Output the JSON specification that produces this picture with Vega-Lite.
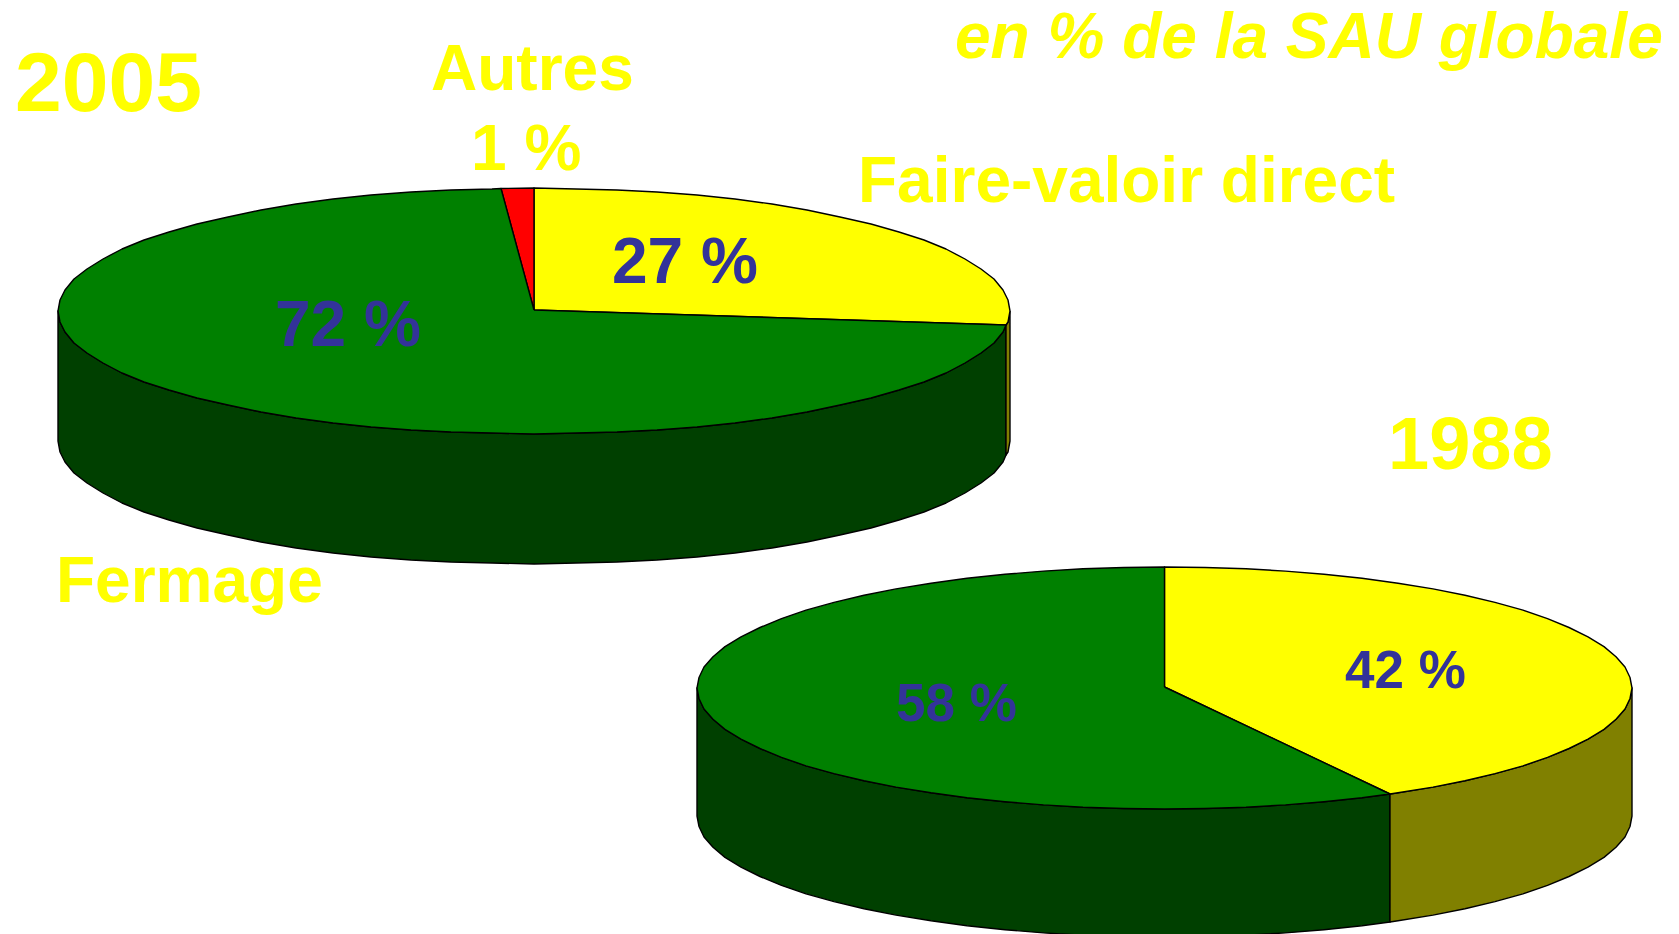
{"$schema":"https://vega.github.io/schema/vega-lite/v6.json","width":1679,"height":934,"padding":0,"autosize":{"type":"none"},"background":"white","config":{"view":{"stroke":null}},
"datasets":{"shapes":[
{"p":"2005 Fermage side","x":1006,"y":325},{"p":"2005 Fermage side","x":1003,"y":332},{"p":"2005 Fermage side","x":994,"y":343},{"p":"2005 Fermage side","x":981,"y":353},{"p":"2005 Fermage side","x":965,"y":363},{"p":"2005 Fermage side","x":946,"y":373},{"p":"2005 Fermage side","x":924,"y":382},{"p":"2005 Fermage side","x":899,"y":390},{"p":"2005 Fermage side","x":871,"y":398},{"p":"2005 Fermage side","x":840,"y":405},{"p":"2005 Fermage side","x":807,"y":412},{"p":"2005 Fermage side","x":772,"y":418},{"p":"2005 Fermage side","x":735,"y":423},{"p":"2005 Fermage side","x":697,"y":427},{"p":"2005 Fermage side","x":657,"y":430},{"p":"2005 Fermage side","x":617,"y":432},{"p":"2005 Fermage side","x":576,"y":433},{"p":"2005 Fermage side","x":534,"y":434},{"p":"2005 Fermage side","x":492,"y":433},{"p":"2005 Fermage side","x":451,"y":432},{"p":"2005 Fermage side","x":411,"y":430},{"p":"2005 Fermage side","x":371,"y":427},{"p":"2005 Fermage side","x":333,"y":423},{"p":"2005 Fermage side","x":296,"y":418},{"p":"2005 Fermage side","x":261,"y":412},{"p":"2005 Fermage side","x":228,"y":405},{"p":"2005 Fermage side","x":197,"y":398},{"p":"2005 Fermage side","x":169,"y":390},{"p":"2005 Fermage side","x":144,"y":382},{"p":"2005 Fermage side","x":122,"y":373},{"p":"2005 Fermage side","x":103,"y":363},{"p":"2005 Fermage side","x":87,"y":353},{"p":"2005 Fermage side","x":74,"y":343},{"p":"2005 Fermage side","x":65,"y":332},{"p":"2005 Fermage side","x":60,"y":322},{"p":"2005 Fermage side","x":58,"y":311},
{"p":"2005 Fermage side","x":58,"y":441},{"p":"2005 Fermage side","x":60,"y":452},{"p":"2005 Fermage side","x":65,"y":462},{"p":"2005 Fermage side","x":74,"y":473},{"p":"2005 Fermage side","x":87,"y":483},{"p":"2005 Fermage side","x":103,"y":493},{"p":"2005 Fermage side","x":122,"y":503},{"p":"2005 Fermage side","x":144,"y":512},{"p":"2005 Fermage side","x":169,"y":520},{"p":"2005 Fermage side","x":197,"y":528},{"p":"2005 Fermage side","x":228,"y":535},{"p":"2005 Fermage side","x":261,"y":542},{"p":"2005 Fermage side","x":296,"y":548},{"p":"2005 Fermage side","x":333,"y":553},{"p":"2005 Fermage side","x":371,"y":557},{"p":"2005 Fermage side","x":411,"y":560},{"p":"2005 Fermage side","x":451,"y":562},{"p":"2005 Fermage side","x":492,"y":563},{"p":"2005 Fermage side","x":534,"y":564},{"p":"2005 Fermage side","x":576,"y":563},{"p":"2005 Fermage side","x":617,"y":562},{"p":"2005 Fermage side","x":657,"y":560},{"p":"2005 Fermage side","x":697,"y":557},{"p":"2005 Fermage side","x":735,"y":553},{"p":"2005 Fermage side","x":772,"y":548},{"p":"2005 Fermage side","x":807,"y":542},{"p":"2005 Fermage side","x":840,"y":535},{"p":"2005 Fermage side","x":871,"y":528},{"p":"2005 Fermage side","x":899,"y":520},{"p":"2005 Fermage side","x":924,"y":512},{"p":"2005 Fermage side","x":946,"y":503},{"p":"2005 Fermage side","x":965,"y":493},{"p":"2005 Fermage side","x":981,"y":483},{"p":"2005 Fermage side","x":994,"y":473},{"p":"2005 Fermage side","x":1003,"y":462},{"p":"2005 Fermage side","x":1006,"y":455},{"p":"2005 Fermage side","x":1006,"y":325},
{"p":"2005 Direct side","x":1010,"y":311},{"p":"2005 Direct side","x":1008,"y":322},{"p":"2005 Direct side","x":1006,"y":325},{"p":"2005 Direct side","x":1006,"y":455},{"p":"2005 Direct side","x":1008,"y":452},{"p":"2005 Direct side","x":1010,"y":441},{"p":"2005 Direct side","x":1010,"y":311},
{"p":"2005 Direct top","x":534,"y":310},{"p":"2005 Direct top","x":534,"y":188},{"p":"2005 Direct top","x":576,"y":189},{"p":"2005 Direct top","x":617,"y":190},{"p":"2005 Direct top","x":657,"y":192},{"p":"2005 Direct top","x":697,"y":195},{"p":"2005 Direct top","x":735,"y":199},{"p":"2005 Direct top","x":772,"y":204},{"p":"2005 Direct top","x":807,"y":210},{"p":"2005 Direct top","x":840,"y":217},{"p":"2005 Direct top","x":871,"y":224},{"p":"2005 Direct top","x":899,"y":232},{"p":"2005 Direct top","x":924,"y":240},{"p":"2005 Direct top","x":946,"y":249},{"p":"2005 Direct top","x":965,"y":259},{"p":"2005 Direct top","x":981,"y":269},{"p":"2005 Direct top","x":994,"y":279},{"p":"2005 Direct top","x":1003,"y":290},{"p":"2005 Direct top","x":1008,"y":300},{"p":"2005 Direct top","x":1010,"y":311},{"p":"2005 Direct top","x":1008,"y":322},{"p":"2005 Direct top","x":1006,"y":325},{"p":"2005 Direct top","x":534,"y":310},
{"p":"2005 Autres top","x":534,"y":310},{"p":"2005 Autres top","x":534,"y":188},{"p":"2005 Autres top","x":501,"y":188.5},{"p":"2005 Autres top","x":534,"y":310},
{"p":"2005 Fermage top","x":534,"y":310},{"p":"2005 Fermage top","x":1006,"y":325},{"p":"2005 Fermage top","x":1003,"y":332},{"p":"2005 Fermage top","x":994,"y":343},{"p":"2005 Fermage top","x":981,"y":353},{"p":"2005 Fermage top","x":965,"y":363},{"p":"2005 Fermage top","x":946,"y":373},{"p":"2005 Fermage top","x":924,"y":382},{"p":"2005 Fermage top","x":899,"y":390},{"p":"2005 Fermage top","x":871,"y":398},{"p":"2005 Fermage top","x":840,"y":405},{"p":"2005 Fermage top","x":807,"y":412},{"p":"2005 Fermage top","x":772,"y":418},{"p":"2005 Fermage top","x":735,"y":423},{"p":"2005 Fermage top","x":697,"y":427},{"p":"2005 Fermage top","x":657,"y":430},{"p":"2005 Fermage top","x":617,"y":432},{"p":"2005 Fermage top","x":576,"y":433},{"p":"2005 Fermage top","x":534,"y":434},{"p":"2005 Fermage top","x":492,"y":433},{"p":"2005 Fermage top","x":451,"y":432},{"p":"2005 Fermage top","x":411,"y":430},{"p":"2005 Fermage top","x":371,"y":427},{"p":"2005 Fermage top","x":333,"y":423},{"p":"2005 Fermage top","x":296,"y":418},{"p":"2005 Fermage top","x":261,"y":412},{"p":"2005 Fermage top","x":228,"y":405},{"p":"2005 Fermage top","x":197,"y":398},{"p":"2005 Fermage top","x":169,"y":390},{"p":"2005 Fermage top","x":144,"y":382},{"p":"2005 Fermage top","x":122,"y":373},{"p":"2005 Fermage top","x":103,"y":363},{"p":"2005 Fermage top","x":87,"y":353},{"p":"2005 Fermage top","x":74,"y":343},{"p":"2005 Fermage top","x":65,"y":332},{"p":"2005 Fermage top","x":60,"y":322},{"p":"2005 Fermage top","x":58,"y":311},{"p":"2005 Fermage top","x":60,"y":300},{"p":"2005 Fermage top","x":65,"y":290},{"p":"2005 Fermage top","x":74,"y":279},{"p":"2005 Fermage top","x":87,"y":269},{"p":"2005 Fermage top","x":103,"y":259},{"p":"2005 Fermage top","x":122,"y":249},{"p":"2005 Fermage top","x":144,"y":240},{"p":"2005 Fermage top","x":169,"y":232},{"p":"2005 Fermage top","x":197,"y":224},{"p":"2005 Fermage top","x":228,"y":217},{"p":"2005 Fermage top","x":261,"y":210},{"p":"2005 Fermage top","x":296,"y":204},{"p":"2005 Fermage top","x":333,"y":199},{"p":"2005 Fermage top","x":371,"y":195},{"p":"2005 Fermage top","x":411,"y":192},{"p":"2005 Fermage top","x":451,"y":190},{"p":"2005 Fermage top","x":492,"y":189},{"p":"2005 Fermage top","x":501,"y":188.5},{"p":"2005 Fermage top","x":534,"y":310},
{"p":"1988 Fermage side","x":1390,"y":794},{"p":"1988 Fermage side","x":1362,"y":797.7},{"p":"1988 Fermage side","x":1324,"y":801.7},{"p":"1988 Fermage side","x":1285.5,"y":804.9},{"p":"1988 Fermage side","x":1246,"y":807.2},{"p":"1988 Fermage side","x":1205,"y":808.5},{"p":"1988 Fermage side","x":1164.5,"y":809},{"p":"1988 Fermage side","x":1124,"y":808.5},{"p":"1988 Fermage side","x":1083,"y":807.2},{"p":"1988 Fermage side","x":1043.5,"y":804.9},{"p":"1988 Fermage side","x":1005,"y":801.7},{"p":"1988 Fermage side","x":967,"y":797.7},{"p":"1988 Fermage side","x":931,"y":792.8},{"p":"1988 Fermage side","x":896,"y":787.1},{"p":"1988 Fermage side","x":864,"y":780.7},{"p":"1988 Fermage side","x":834,"y":773.6},{"p":"1988 Fermage side","x":806,"y":765.8},{"p":"1988 Fermage side","x":781.5,"y":757.4},{"p":"1988 Fermage side","x":760,"y":748.5},{"p":"1988 Fermage side","x":741,"y":739.1},{"p":"1988 Fermage side","x":725,"y":729.4},{"p":"1988 Fermage side","x":713,"y":719.3},{"p":"1988 Fermage side","x":704,"y":709},{"p":"1988 Fermage side","x":699,"y":698.5},{"p":"1988 Fermage side","x":697,"y":688},
{"p":"1988 Fermage side","x":697,"y":816},{"p":"1988 Fermage side","x":699,"y":826.5},{"p":"1988 Fermage side","x":704,"y":837},{"p":"1988 Fermage side","x":713,"y":847.3},{"p":"1988 Fermage side","x":725,"y":857.4},{"p":"1988 Fermage side","x":741,"y":867.1},{"p":"1988 Fermage side","x":760,"y":876.5},{"p":"1988 Fermage side","x":781.5,"y":885.4},{"p":"1988 Fermage side","x":806,"y":893.8},{"p":"1988 Fermage side","x":834,"y":901.6},{"p":"1988 Fermage side","x":864,"y":908.7},{"p":"1988 Fermage side","x":896,"y":915.1},{"p":"1988 Fermage side","x":931,"y":920.8},{"p":"1988 Fermage side","x":967,"y":925.7},{"p":"1988 Fermage side","x":1005,"y":929.7},{"p":"1988 Fermage side","x":1043.5,"y":932.9},{"p":"1988 Fermage side","x":1083,"y":935.2},{"p":"1988 Fermage side","x":1124,"y":936.5},{"p":"1988 Fermage side","x":1164.5,"y":937},{"p":"1988 Fermage side","x":1205,"y":936.5},{"p":"1988 Fermage side","x":1246,"y":935.2},{"p":"1988 Fermage side","x":1285.5,"y":932.9},{"p":"1988 Fermage side","x":1324,"y":929.7},{"p":"1988 Fermage side","x":1362,"y":925.7},{"p":"1988 Fermage side","x":1390,"y":922},{"p":"1988 Fermage side","x":1390,"y":794},
{"p":"1988 Direct side","x":1390,"y":794},{"p":"1988 Direct side","x":1398,"y":792.8},{"p":"1988 Direct side","x":1433,"y":787.1},{"p":"1988 Direct side","x":1465,"y":780.7},{"p":"1988 Direct side","x":1495,"y":773.6},{"p":"1988 Direct side","x":1523,"y":765.8},{"p":"1988 Direct side","x":1547.5,"y":757.4},{"p":"1988 Direct side","x":1569,"y":748.5},{"p":"1988 Direct side","x":1588,"y":739.1},{"p":"1988 Direct side","x":1604,"y":729.4},{"p":"1988 Direct side","x":1616,"y":719.3},{"p":"1988 Direct side","x":1625,"y":709},{"p":"1988 Direct side","x":1630,"y":698.5},{"p":"1988 Direct side","x":1632,"y":688},{"p":"1988 Direct side","x":1632,"y":816},{"p":"1988 Direct side","x":1630,"y":826.5},{"p":"1988 Direct side","x":1625,"y":837},{"p":"1988 Direct side","x":1616,"y":847.3},{"p":"1988 Direct side","x":1604,"y":857.4},{"p":"1988 Direct side","x":1588,"y":867.1},{"p":"1988 Direct side","x":1569,"y":876.5},{"p":"1988 Direct side","x":1547.5,"y":885.4},{"p":"1988 Direct side","x":1523,"y":893.8},{"p":"1988 Direct side","x":1495,"y":901.6},{"p":"1988 Direct side","x":1465,"y":908.7},{"p":"1988 Direct side","x":1433,"y":915.1},{"p":"1988 Direct side","x":1398,"y":920.8},{"p":"1988 Direct side","x":1390,"y":922},{"p":"1988 Direct side","x":1390,"y":794},
{"p":"1988 Direct top","x":1164.5,"y":687},{"p":"1988 Direct top","x":1164.5,"y":567},{"p":"1988 Direct top","x":1205,"y":567.5},{"p":"1988 Direct top","x":1246,"y":568.8},{"p":"1988 Direct top","x":1285.5,"y":571.1},{"p":"1988 Direct top","x":1324,"y":574.3},{"p":"1988 Direct top","x":1362,"y":578.3},{"p":"1988 Direct top","x":1398,"y":583.2},{"p":"1988 Direct top","x":1433,"y":588.9},{"p":"1988 Direct top","x":1465,"y":595.3},{"p":"1988 Direct top","x":1495,"y":602.4},{"p":"1988 Direct top","x":1523,"y":610.2},{"p":"1988 Direct top","x":1547.5,"y":618.6},{"p":"1988 Direct top","x":1569,"y":627.5},{"p":"1988 Direct top","x":1588,"y":636.9},{"p":"1988 Direct top","x":1604,"y":646.6},{"p":"1988 Direct top","x":1616,"y":656.7},{"p":"1988 Direct top","x":1625,"y":667},{"p":"1988 Direct top","x":1630,"y":677.5},{"p":"1988 Direct top","x":1632,"y":688},{"p":"1988 Direct top","x":1630,"y":698.5},{"p":"1988 Direct top","x":1625,"y":709},{"p":"1988 Direct top","x":1616,"y":719.3},{"p":"1988 Direct top","x":1604,"y":729.4},{"p":"1988 Direct top","x":1588,"y":739.1},{"p":"1988 Direct top","x":1569,"y":748.5},{"p":"1988 Direct top","x":1547.5,"y":757.4},{"p":"1988 Direct top","x":1523,"y":765.8},{"p":"1988 Direct top","x":1495,"y":773.6},{"p":"1988 Direct top","x":1465,"y":780.7},{"p":"1988 Direct top","x":1433,"y":787.1},{"p":"1988 Direct top","x":1398,"y":792.8},{"p":"1988 Direct top","x":1390,"y":794},{"p":"1988 Direct top","x":1164.5,"y":687},
{"p":"1988 Fermage top","x":1164.5,"y":687},{"p":"1988 Fermage top","x":1390,"y":794},{"p":"1988 Fermage top","x":1362,"y":797.7},{"p":"1988 Fermage top","x":1324,"y":801.7},{"p":"1988 Fermage top","x":1285.5,"y":804.9},{"p":"1988 Fermage top","x":1246,"y":807.2},{"p":"1988 Fermage top","x":1205,"y":808.5},{"p":"1988 Fermage top","x":1164.5,"y":809},{"p":"1988 Fermage top","x":1124,"y":808.5},{"p":"1988 Fermage top","x":1083,"y":807.2},{"p":"1988 Fermage top","x":1043.5,"y":804.9},{"p":"1988 Fermage top","x":1005,"y":801.7},{"p":"1988 Fermage top","x":967,"y":797.7},{"p":"1988 Fermage top","x":931,"y":792.8},{"p":"1988 Fermage top","x":896,"y":787.1},{"p":"1988 Fermage top","x":864,"y":780.7},{"p":"1988 Fermage top","x":834,"y":773.6},{"p":"1988 Fermage top","x":806,"y":765.8},{"p":"1988 Fermage top","x":781.5,"y":757.4},{"p":"1988 Fermage top","x":760,"y":748.5},{"p":"1988 Fermage top","x":741,"y":739.1},{"p":"1988 Fermage top","x":725,"y":729.4},{"p":"1988 Fermage top","x":713,"y":719.3},{"p":"1988 Fermage top","x":704,"y":709},{"p":"1988 Fermage top","x":699,"y":698.5},{"p":"1988 Fermage top","x":697,"y":688},{"p":"1988 Fermage top","x":699,"y":677.5},{"p":"1988 Fermage top","x":704,"y":667},{"p":"1988 Fermage top","x":713,"y":656.7},{"p":"1988 Fermage top","x":725,"y":646.6},{"p":"1988 Fermage top","x":741,"y":636.9},{"p":"1988 Fermage top","x":760,"y":627.5},{"p":"1988 Fermage top","x":781.5,"y":618.6},{"p":"1988 Fermage top","x":806,"y":610.2},{"p":"1988 Fermage top","x":834,"y":602.4},{"p":"1988 Fermage top","x":864,"y":595.3},{"p":"1988 Fermage top","x":896,"y":588.9},{"p":"1988 Fermage top","x":931,"y":583.2},{"p":"1988 Fermage top","x":967,"y":578.3},{"p":"1988 Fermage top","x":1005,"y":574.3},{"p":"1988 Fermage top","x":1043.5,"y":571.1},{"p":"1988 Fermage top","x":1083,"y":568.8},{"p":"1988 Fermage top","x":1124,"y":567.5},{"p":"1988 Fermage top","x":1164.5,"y":567},{"p":"1988 Fermage top","x":1164.5,"y":687}
],
"labels":[
{"role":"big2005","t":"2005","x":15,"y":111},
{"role":"big1988","t":"1988","x":1388,"y":469},
{"role":"name","t":"Autres","x":431,"y":90},
{"role":"name","t":"1 %","x":471,"y":170},
{"role":"name","t":"Faire-valoir direct","x":858,"y":202},
{"role":"name","t":"Fermage","x":56,"y":602},
{"role":"unit","t":"en % de la SAU globale","x":955,"y":58},
{"role":"share2005","t":"72 %","x":275,"y":346},
{"role":"share2005","t":"27 %","x":612,"y":283},
{"role":"share1988","t":"58 %","x":896,"y":721},
{"role":"share1988","t":"42 %","x":1345,"y":688}
]},
"encoding":{"x":{"field":"x","type":"quantitative","scale":{"domain":[0,1679],"nice":false,"zero":false},"axis":null},"y":{"field":"y","type":"quantitative","scale":{"domain":[934,0],"nice":false,"zero":false},"axis":null}},
"layer":[
{"data":{"name":"shapes"},"mark":{"type":"line","filled":true,"stroke":"#000000","strokeWidth":1.4,"clip":true,"strokeJoin":"round"},
"encoding":{"order":{"value":null},"color":{"field":"p","type":"nominal","legend":null,"sort":null,"scale":{"domain":["2005 Fermage side","2005 Direct side","2005 Direct top","2005 Autres top","2005 Fermage top","1988 Fermage side","1988 Direct side","1988 Direct top","1988 Fermage top"],"range":["#004000","#808000","#FFFF00","#FF0000","#008000","#004000","#808000","#FFFF00","#008000"]}}}},
{"data":{"name":"labels"},"transform":[{"filter":"datum.role==='big2005'"}],"mark":{"type":"text","align":"left","baseline":"alphabetic","font":"Liberation Sans","fontWeight":"bold","fontSize":84,"fill":"#FFFF00"},"encoding":{"text":{"field":"t"}}},
{"data":{"name":"labels"},"transform":[{"filter":"datum.role==='big1988'"}],"mark":{"type":"text","align":"left","baseline":"alphabetic","font":"Liberation Sans","fontWeight":"bold","fontSize":74,"fill":"#FFFF00"},"encoding":{"text":{"field":"t"}}},
{"data":{"name":"labels"},"transform":[{"filter":"datum.role==='name'"}],"mark":{"type":"text","align":"left","baseline":"alphabetic","font":"Liberation Sans","fontWeight":"bold","fontSize":64,"fill":"#FFFF00"},"encoding":{"text":{"field":"t"}}},
{"data":{"name":"labels"},"transform":[{"filter":"datum.role==='unit'"}],"mark":{"type":"text","align":"left","baseline":"alphabetic","font":"Liberation Sans","fontWeight":"bold","fontStyle":"italic","fontSize":64,"fill":"#FFFF00"},"encoding":{"text":{"field":"t"}}},
{"data":{"name":"labels"},"transform":[{"filter":"datum.role==='share2005'"}],"mark":{"type":"text","align":"left","baseline":"alphabetic","font":"Liberation Sans","fontWeight":"bold","fontSize":64,"fill":"#333399"},"encoding":{"text":{"field":"t"}}},
{"data":{"name":"labels"},"transform":[{"filter":"datum.role==='share1988'"}],"mark":{"type":"text","align":"left","baseline":"alphabetic","font":"Liberation Sans","fontWeight":"bold","fontSize":53,"fill":"#333399"},"encoding":{"text":{"field":"t"}}}
]}
